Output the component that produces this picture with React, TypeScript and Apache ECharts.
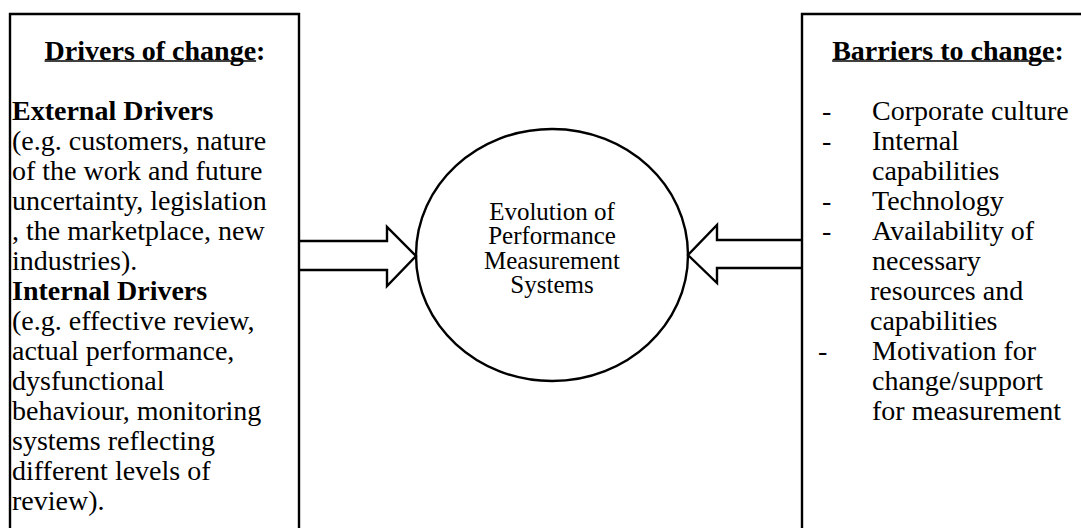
import React, { useEffect, useRef } from "react";
import * as echarts from "echarts";

const leftHeading = "Drivers of change:";
const leftLines: { text: string; bold?: boolean }[] = [
  { text: "External Drivers", bold: true },
  { text: "(e.g. customers, nature" },
  { text: "of the work and future" },
  { text: "uncertainty, legislation" },
  { text: ", the marketplace, new" },
  { text: "industries)." },
  { text: "Internal Drivers", bold: true },
  { text: "(e.g. effective review," },
  { text: "actual performance," },
  { text: "dysfunctional" },
  { text: "behaviour, monitoring" },
  { text: "systems reflecting" },
  { text: "different levels of" },
  { text: "review)." },
];
const rightHeading = "Barriers to change:";
const rightItems: string[][] = [
  ["Corporate culture"],
  ["Internal", "capabilities"],
  ["Technology"],
  ["Availability of", "necessary", "resources and", "capabilities"],
  ["Motivation for", "change/support", "for measurement"],
];
const centerLines = ["Evolution of", "Performance", "Measurement", "Systems"];

const FONT = "'Liberation Serif', 'Times New Roman', serif";

export default function App() {
  const ref = useRef<HTMLDivElement>(null);
  useEffect(() => {
    if (!ref.current) return;
    const chart = echarts.init(ref.current, undefined, { renderer: "svg" });
    const fs = 28;
    const lh = 30;
    const y0 = 50;
    const stroke = { stroke: "#000", lineWidth: 2.4, fill: "none" };
    const els: any[] = [];
    els.push({ type: "polyline", shape: { points: [[10, 540], [10, 14], [299, 14], [299, 540]] }, style: { ...stroke } });
    els.push({ type: "polyline", shape: { points: [[802, 540], [802, 14], [1100, 14]] }, style: { ...stroke } });
    els.push({ type: "ellipse", shape: { cx: 552, cy: 255, rx: 136, ry: 126 }, style: { ...stroke } });
    els.push({
      type: "polyline",
      shape: { points: [[299, 241], [387, 241], [387, 227], [416, 256], [387, 286], [387, 270], [299, 270]] },
      style: { ...stroke },
    });
    els.push({
      type: "polyline",
      shape: { points: [[802, 240], [717, 240], [717, 225], [688, 255], [717, 283], [717, 268], [802, 268]] },
      style: { ...stroke },
    });
    const txt = (x: number, y: number, text: string, opts: any = {}) => ({
      type: "text",
      x,
      y,
      style: {
        text,
        font: `${opts.bold ? "bold " : ""}${opts.size || fs}px ${FONT}`,
        fill: "#000",
        textAlign: opts.align || "left",
        textVerticalAlign: "middle",
      },
    });
    const headings = [
      { t: leftHeading, cx: 155 },
      { t: rightHeading, cx: 948 },
    ];
    const cv = document.createElement("canvas").getContext("2d")!;
    cv.font = `bold ${fs}px ${FONT}`;
    headings.forEach((h) => {
      els.push(txt(h.cx, y0, h.t, { bold: true, align: "center" }));
      const full = cv.measureText(h.t).width;
      const main = cv.measureText(h.t.slice(0, -1)).width;
      const left = h.cx - full / 2;
      els.push({ type: "line", shape: { x1: left, y1: y0 + 11, x2: left + main, y2: y0 + 11 }, style: { stroke: "#000", lineWidth: 1.6 } });
    });
    leftLines.forEach((l, i) => {
      els.push(txt(12, y0 + (i + 2) * lh, l.text, { bold: l.bold }));
    });
    let idx = 2;
    rightItems.forEach((item, k) => {
      els.push(txt(k === 4 ? 818 : 822, y0 + idx * lh, "-", {}));
      item.forEach((line, j) => {
        const indentX = k === 3 && j >= 2 ? 870 : 872;
        els.push(txt(indentX, y0 + idx * lh, line, {}));
        idx++;
      });
    });
    centerLines.forEach((l, i) => {
      els.push(txt(552, 211 + i * 24.5, l, { align: "center", size: 25 }));
    });
    chart.setOption({ animation: false, graphic: { elements: els } });
    return () => chart.dispose();
  }, []);
  return <div ref={ref} style={{ width: 1081, height: 528, position: "absolute", left: 0, top: 0 }} />;
}
